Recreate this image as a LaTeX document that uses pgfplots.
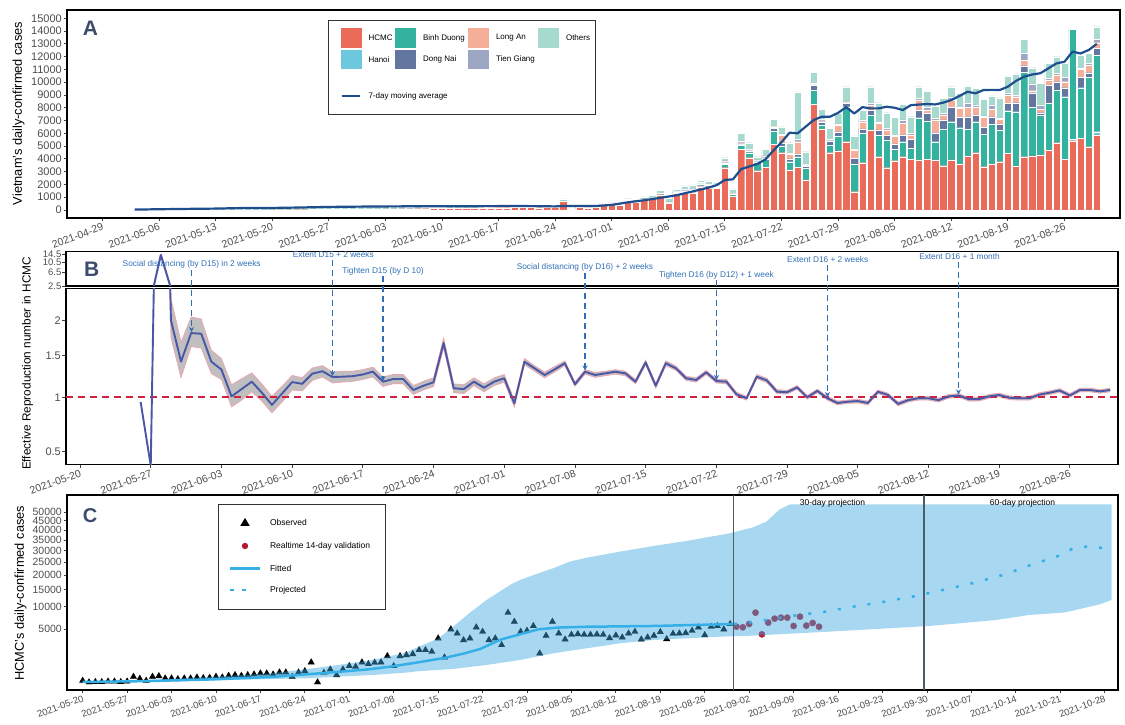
\documentclass[border=0pt]{standalone}
\usepackage{fontspec}
\setmainfont{Liberation Sans}
\setsansfont{Liberation Sans}
\usepackage{pgfplots}
\pgfplotsset{compat=1.18}
\usepackage{pgfplotstable}
\usetikzlibrary{arrows.meta}

\definecolor{npgred}{HTML}{E64B35}
\definecolor{npgcyan}{HTML}{4DBBD5}
\definecolor{npggreen}{HTML}{00A087}
\definecolor{npgnavy}{HTML}{3C5488}
\definecolor{npgsalmon}{HTML}{F39B7F}
\definecolor{npglav}{HTML}{8491B4}
\definecolor{npgmint}{HTML}{91D1C2}
\colorlet{cH}{npgred!82!white}
\colorlet{cHa}{npgcyan!82!white}
\colorlet{cBD}{npggreen!80!white}
\colorlet{cDN}{npgnavy!80!white}
\colorlet{cLA}{npgsalmon!80!white}
\colorlet{cTG}{npglav!80!white}
\colorlet{cO}{npgmint!80!white}
\definecolor{maBlue}{HTML}{1F4E8F}
\definecolor{tickgray}{HTML}{4D4D4D}
\definecolor{letterc}{HTML}{3D4C6A}
\definecolor{rtline}{HTML}{4A56A6}
\definecolor{rtpink}{HTML}{F0A3AE}
\definecolor{refred}{HTML}{D0203F}
\definecolor{annblue}{HTML}{2F6FB6}
\definecolor{ribblue}{HTML}{3FA9E0}
\definecolor{fitblue}{HTML}{35B0E6}
\definecolor{valred}{HTML}{B5172F}
\definecolor{vline}{HTML}{4F5B66}

\pgfplotsset{
  panel/.style={
    scale only axis, anchor=south west,
    scaled ticks=false,
    axis line style={line width=1.3pt, black},
    tick align=outside, tick pos=left,
    major tick length=3.5pt,
    tick style={line width=0.8pt, black!75},
    tick label style={text=tickgray},
    yticklabel style={font=\fontsize{11}{12}\selectfont, inner sep=1.5pt},
    xticklabel style={font=\fontsize{10.5}{12}\selectfont, rotate=20, anchor=north east, inner sep=1pt},
    /pgf/number format/assume math mode=true,
  },
}

\begin{document}

% Panel A: daily cases by province (day 0 = 2021-05-20)
\pgfplotstableread{
d H Ha BD DN LA TG O
-17 0 0 0 0 0 0 40
-16 0 0 0 0 0 0 50
-15 0 0 0 0 0 0 60
-14 0 0 0 0 0 0 70
-13 0 0 0 0 0 0 80
-12 0 0 0 0 0 0 90
-11 0 0 0 0 0 0 100
-10 0 0 0 0 0 0 100
-9 0 0 0 0 0 0 110
-8 0 0 0 0 0 0 120
-7 0 0 0 0 0 0 130
-6 0 0 0 0 0 0 120
-5 0 0 0 0 0 0 150
-4 0 0 0 0 0 0 280
-3 0 0 0 0 0 0 120
-2 0 0 0 0 0 0 140
-1 0 0 0 0 0 0 130
0 10 0 0 0 0 0 150
1 10 0 0 0 0 0 160
2 15 0 0 0 0 0 170
3 20 0 0 0 0 0 180
4 25 0 0 0 0 0 200
5 30 0 0 0 0 0 350
6 30 0 0 0 0 0 200
7 40 0 0 0 0 0 210
8 40 0 0 0 0 0 220
9 50 0 0 0 0 0 200
10 50 0 0 0 0 0 220
11 60 0 0 0 0 0 230
12 60 0 0 0 0 0 220
13 70 0 0 0 0 0 230
14 80 0 0 0 0 0 200
15 90 0 0 0 0 0 180
16 80 0 0 0 0 0 190
17 90 0 0 0 0 0 170
18 100 0 0 0 0 0 170
19 100 0 0 0 0 0 160
20 110 0 0 0 0 0 150
21 110 0 0 0 0 0 140
22 120 0 0 0 0 0 150
23 130 0 0 0 0 0 140
24 140 0 0 0 0 0 130
25 150 0 0 0 0 0 120
26 150 0 0 0 0 0 110
27 160 0 0 0 0 0 100
28 180 0 10 0 0 0 100
29 180 0 10 0 0 0 100
30 200 0 20 0 0 0 90
31 210 0 20 0 0 0 100
32 200 0 20 0 0 0 90
33 180 0 20 0 0 0 90
34 220 0 20 0 0 0 100
35 230 0 20 0 0 0 90
36 700 0 20 0 0 0 150
37 30 0 10 0 0 0 100
38 230 0 20 0 0 0 60
39 170 0 15 0 0 0 50
40 220 0 20 0 0 0 50
41 400 0 40 0 0 0 80
42 550 0 50 0 0 0 100
43 380 0 30 0 0 0 60
44 700 0 40 20 0 0 120
45 650 0 40 20 0 0 120
46 800 0 50 30 0 0 140
47 900 0 60 30 0 0 160
48 1200 0 80 40 20 0 220
49 550 0 60 30 0 0 250
50 1300 0 80 40 20 10 180
51 1304 0 78 131 52 52 261
52 1356 0 79 130 52 52 287
53 1826 0 78 131 52 78 183
54 1748 0 78 104 78 52 209
55 1695 0 79 104 52 78 157
56 3312 0 262 130 78 52 261
57 1096 0 130 26 26 26 339
58 4747 0 339 105 78 130 600
59 4095 0 391 157 52 52 522
60 3078 0 704 52 52 27 260
61 3339 0 652 104 78 79 521
62 5139 0 1043 208 131 52 522
63 4486 0 522 209 652 78 574
64 3130 0 652 209 391 52 835
65 3339 0 834 209 965 209 3678
66 2348 0 913 182 78 79 964
67 8268 0 1122 391 52 131 809
68 6338 0 313 261 78 105 808
69 4486 0 600 339 53 52 860
70 4617 0 1174 339 521 79 835
71 5347 0 2739 261 52 78 1174
72 1435 0 2165 443 652 52 1044
73 3704 0 2295 339 574 131 782
74 6260 0 1174 391 391 131 1304
75 4173 0 1696 391 522 130 1487
76 3312 0 2166 391 391 130 1227
77 3860 0 887 420 600 100 1380
78 4173 0 1174 522 913 261 1225
79 3965 0 860 705 339 130 1304
80 3913 0 3312 600 783 130 913
81 3965 0 2999 600 261 209 1278
82 3913 0 1434 704 992 130 965
83 3469 0 2843 731 391 130 1174
84 3913 0 2999 1122 574 208 835
85 3600 0 2843 808 704 131 1043
86 4226 0 2086 991 731 365 1304
87 4486 0 2426 522 600 182 1304
88 3391 0 2556 522 782 104 1305
89 3600 0 3130 573 574 339 705
90 3782 0 2478 470 365 130 1565
91 4434 0 3339 574 652 130 1357
92 3443 0 4252 704 469 105 1669
93 4173 0 6600 521 444 521 1122
94 4226 0 3808 1147 157 522 1278
95 4304 0 3130 182 261 339 1696
96 4695 0 3652 1434 392 130 1174
97 5269 0 4121 652 522 130 1304
98 3965 0 4903 704 470 339 1096
99 5425 105 8607 0 0 0 0
100 5608 0 3964 809 626 131 991
101 4956 0 5425 365 600 131 782
102 5869 261 5999 521 444 261 991
}\dataA

\pgfplotstableread{
d ma
-17 30
-14 60
-10 90
-7 110
-4 150
0 160
3 190
7 240
10 260
14 280
18 290
22 300
26 300
30 310
33 300
35 280
36 320
38 320
40 310
42 400
44 600
46 760
48 950
50 1150
52 1450
54 1750
55 1950
56 2350
57 2400
58 3200
60 3600
61 3950
62 4650
63 5300
64 6050
65 6000
67 7050
68 7300
69 7300
70 7600
71 8050
72 7550
73 8050
74 7950
75 7950
76 8080
77 8000
78 7820
79 8200
80 8250
81 8290
82 8260
83 8400
84 8600
85 8920
86 9250
87 9130
88 9390
89 9400
90 9390
91 9650
92 10100
93 10430
94 10600
95 10700
96 11080
97 11470
98 11600
99 12390
100 12250
101 12520
102 13000
}\maA

% Panel B: effective reproduction number with band
\pgfplotstableread{
d r lo hi
6 0.95 0.95 0.95
7 0.40 0.40 0.40
8 14.2 14.2 14.2
9 2.0 1.75 2.35
10 1.42 1.22 1.68
11 1.81 1.62 2.05
12 1.80 1.60 2.02
13 1.42 1.27 1.57
14 1.32 1.20 1.46
15 1.01 0.90 1.14
16 1.09 0.97 1.21
17 1.175 1.06 1.28
18 1.05 0.96 1.15
19 0.92 0.84 1.01
20 1.04 0.95 1.12
21 1.17 1.08 1.25
22 1.15 1.07 1.22
23 1.27 1.19 1.34
24 1.30 1.23 1.37
25 1.23 1.16 1.29
26 1.234 1.17 1.30
27 1.24 1.18 1.30
28 1.26 1.20 1.32
29 1.295 1.23 1.35
30 1.175 1.12 1.23
31 1.206 1.15 1.26
32 1.206 1.15 1.26
33 1.08 1.03 1.13
34 1.128 1.08 1.18
35 1.168 1.12 1.22
36 1.67 1.60 1.74
37 1.10 1.05 1.15
38 1.09 1.04 1.14
39 1.175 1.13 1.22
40 1.106 1.06 1.15
41 1.175 1.13 1.22
42 1.215 1.17 1.26
43 0.936 0.90 0.97
44 1.419 1.38 1.46
45 1.336 1.30 1.37
46 1.254 1.22 1.29
47 1.323 1.29 1.36
48 1.40 1.37 1.43
49 1.145 1.12 1.17
50 1.294 1.265 1.32
51 1.254 1.225 1.285
52 1.274 1.245 1.30
53 1.294 1.265 1.32
54 1.274 1.245 1.30
55 1.175 1.15 1.20
56 1.41 1.38 1.44
57 1.128 1.10 1.155
58 1.40 1.37 1.43
59 1.336 1.31 1.365
60 1.215 1.19 1.24
61 1.195 1.17 1.22
62 1.287 1.26 1.31
63 1.183 1.16 1.205
64 1.175 1.15 1.20
65 1.032 1.01 1.055
66 0.99 0.97 1.01
67 1.234 1.21 1.26
68 1.19 1.165 1.215
69 1.061 1.04 1.085
70 1.055 1.035 1.075
71 1.11 1.09 1.13
72 1.0 0.98 1.02
73 1.07 1.05 1.09
74 0.99 0.97 1.01
75 0.94 0.92 0.96
76 0.953 0.935 0.97
77 0.96 0.94 0.98
78 0.94 0.92 0.96
79 1.06 1.04 1.08
80 1.025 1.005 1.045
81 0.93 0.91 0.95
82 0.97 0.95 0.99
83 0.99 0.97 1.01
84 0.99 0.97 1.01
85 0.97 0.95 0.99
86 1.01 0.99 1.03
87 1.02 1.0 1.04
88 0.98 0.96 1.0
89 0.98 0.96 1.0
90 1.01 0.99 1.03
91 1.025 1.005 1.045
92 0.995 0.975 1.015
93 0.99 0.97 1.01
94 0.99 0.97 1.01
95 1.03 1.01 1.05
96 1.05 1.03 1.07
97 1.075 1.055 1.095
98 1.02 1.0 1.04
99 1.08 1.06 1.10
100 1.08 1.06 1.10
101 1.065 1.045 1.085
102 1.08 1.06 1.10
}\rt

% Panel C: HCMC observed, validation, fitted, projected, band
\pgfplotstableread{
d v
0 12
1 2
2 3
3 3
4 6
5 6
6 3
7 6
8 74
9 36
10 12
11 74
12 90
13 42
14 42
15 31
16 42
17 42
18 60
19 48
20 54
21 74
22 60
23 98
24 117
25 98
26 117
27 137
28 169
29 169
30 137
31 204
32 204
33 74
34 204
35 256
36 751
37 2
38 193
39 331
40 117
41 331
42 511
43 471
44 751
45 635
46 724
47 751
48 1267
49 511
50 1267
51 1362
52 1459
53 1892
54 1892
55 1706
56 3446
57 1149
58 4970
59 4251
60 3192
61 3446
62 5344
63 4543
64 3192
65 3446
66 2500
67 8500
68 6477
69 4543
70 4720
71 5596
72 1529
73 3869
74 6477
75 4251
76 3295
77 4032
78 4134
79 4032
80 4032
81 4083
82 4032
83 3493
84 3919
85 3600
86 4251
87 4543
88 3295
89 3600
90 3869
91 4489
92 3341
93 4199
94 4251
95 4316
96 4720
97 5344
98 3969
99 5466
100 5596
101 4970
102 5994
}\obs

\pgfplotstableread{
d v
103 5466
104 5344
105 5994
106 8500
107 4083
108 6270
109 7120
110 7340
111 7340
112 5596
113 7570
114 5660
115 6200
116 5466
}\val

\pgfplotstableread{
d v
0 3
10 8
20 25
30 70
38 180
45 330
49 500
53 760
57 1100
60 1500
62.6 2000
64.5 2700
66 3300
68.9 4080
71.8 4970
75 5300
79.4 5450
90 5600
102.6 5990
}\fit

\pgfplotstableread{
d v
102.6 5990
105 6300
108 6900
112 7800
117 8750
121 9900
126 11260
131 12900
135.5 14840
140.3 17140
145 20000
149.5 24000
154 27900
156 31000
158 31800
160 31500
162 30300
}\proj

\pgfplotstableread{
d v
0 6
8.6 14
19 60
29.6 169
35 331
40.2 571
45.6 924
50.9 1600
53 2300
56 3400
58.4 5500
61 8500
63.6 11800
67.3 16460
68.9 18190
71.5 20370
74.1 22530
76.7 25190
79.4 26900
84.6 29520
89.9 32110
95.1 34520
101.9 38330
105.6 41450
107.7 44520
109.8 51500
111.4 54570
162.1 54570
162.1 11820
160.2 10600
158.6 10000
156 9000
154.4 8500
149.1 7950
143.9 6820
133.4 5596
117.6 4543
105.6 3869
100.4 3706
95.1 3446
89.9 3192
84.6 2723
79.4 2088
74.1 1529
68.9 924
63.6 571
58.4 350
53 250
50.9 193
45.6 117
40.2 74
35 42
29.6 31
19 12
8.6 3
0 1
}\rib

\begin{tikzpicture}[x=1pt,y=1pt]
\path[use as bounding box] (0pt,0pt) rectangle (1125pt,725pt);

% ---------------- Panel A ----------------
\begin{axis}[panel, at={(67pt,507pt)}, width=1053pt, height=208pt,
  xmin=-25.37, xmax=104.87, ymin=-626, ymax=15650,
  ybar stacked, bar width=0.9,
  xtick={-21,-14,...,105},
  xticklabels={2021-04-29,2021-05-06,2021-05-13,2021-05-20,2021-05-27,2021-06-03,2021-06-10,2021-06-17,2021-06-24,2021-07-01,2021-07-08,2021-07-15,2021-07-22,2021-07-29,2021-08-05,2021-08-12,2021-08-19,2021-08-26,2021-09-02},
  ytick={0,1000,...,15000},
  yticklabels={0,1000,2000,3000,4000,5000,6000,7000,8000,9000,10000,11000,12000,13000,14000,15000},
]
\addplot[fill=cH, draw=white, line width=0.3pt] table[x=d,y=H]{\dataA};
\addplot[fill=cHa, draw=white, line width=0.3pt] table[x=d,y=Ha]{\dataA};
\addplot[fill=cBD, draw=white, line width=0.3pt] table[x=d,y=BD]{\dataA};
\addplot[fill=cDN, draw=white, line width=0.3pt] table[x=d,y=DN]{\dataA};
\addplot[fill=cLA, draw=white, line width=0.3pt] table[x=d,y=LA]{\dataA};
\addplot[fill=cTG, draw=white, line width=0.3pt] table[x=d,y=TG]{\dataA};
\addplot[fill=cO, draw=white, line width=0.3pt] table[x=d,y=O]{\dataA};
\end{axis}
\begin{axis}[scale only axis, anchor=south west, at={(67pt,507pt)}, width=1053pt, height=208pt,
  xmin=-25.37, xmax=104.87, ymin=-626, ymax=15650, hide axis]
\addplot[maBlue, line width=2.2pt, no marks, line join=round] table[x=d,y=ma]{\maA};
\end{axis}

% legend A
\draw[black!80, line width=0.8pt, fill=white] (328.3,705) rectangle (595,611);
\begin{scope}[font=\fontsize{8}{9}\selectfont]
\fill[cH] (341,696.7) rectangle (362,677.3); \node[anchor=west] at (365,687) {HCMC};
\fill[cBD] (395,696.7) rectangle (416,677.3); \node[anchor=west] at (419.5,687) {Binh Duong};
\fill[cLA] (468.3,696.7) rectangle (489.3,677.3); \node[anchor=west] at (492.5,687) {Long An};
\fill[cO] (538.3,696.7) rectangle (559.3,677.3); \node[anchor=west] at (562.5,687) {Others};
\fill[cHa] (341,675) rectangle (362,655.7); \node[anchor=west] at (365,665.3) {Hanoi};
\fill[cDN] (395,675) rectangle (416,655.7); \node[anchor=west] at (419.5,665.3) {Dong Nai};
\fill[cTG] (468.3,675) rectangle (489.3,655.7); \node[anchor=west] at (492.5,665.3) {Tien Giang};
\draw[maBlue, line width=2.2pt] (341.7,629) -- (360,629); \node[anchor=west] at (365,629) {7-day moving average};
\end{scope}
\node[font=\fontsize{21}{24}\selectfont\bfseries, text=letterc] at (90.5,696.8) {A};
\node[rotate=90, font=\fontsize{12.8}{14}\selectfont] at (18.5,611.5) {Vietnam's daily-confirmed cases};

% ---------------- Panel B ----------------
\begin{axis}[panel, at={(66pt,439pt)}, width=1052pt, height=34.3pt,
  xmin=-1.39, xmax=102.77, ymin=1.58, ymax=3.99,
  xtick=\empty,
  ytick={1.5811,2.5495,3.2404,3.8079}, yticklabels={2.5,6.5,10.5,14.5},
  yticklabel style={font=\fontsize{9.5}{10}\selectfont, inner sep=1pt},
]
\addplot[rtline, line width=2pt, no marks, line join=round] table[x=d, y expr={sqrt(\thisrow{r})}]{\rt};
\end{axis}
% band (stacked: lower, then width)
\begin{axis}[scale only axis, anchor=south west, at={(66pt,260.7pt)}, width=1052pt, height=176pt,
  xmin=-1.39, xmax=102.77, ymin=0.6398, ymax=1.586, hide axis, stack plots=y]
\addplot[draw=none, no marks] table[x=d, y expr={sqrt(\thisrow{lo})}]{\rt};
\addplot[fill=gray!50, draw=none, no marks] table[x=d, y expr={sqrt(\thisrow{hi})-sqrt(\thisrow{lo})}]{\rt} \closedcycle;
\end{axis}
\begin{axis}[panel, at={(66pt,260.7pt)}, width=1052pt, height=176pt,
  xmin=-1.39, xmax=102.77, ymin=0.6398, ymax=1.586,
  xtick={0,7,...,98},
  xticklabels={2021-05-20,2021-05-27,2021-06-03,2021-06-10,2021-06-17,2021-06-24,2021-07-01,2021-07-08,2021-07-15,2021-07-22,2021-07-29,2021-08-05,2021-08-12,2021-08-19,2021-08-26},
  ytick={0.70711,1,1.22474,1.41421}, yticklabels={0.5,1,1.5,2},
]
\addplot[draw=rtpink, line width=0.7pt, no marks] table[x=d, y expr={sqrt(\thisrow{lo})}]{\rt};
\addplot[draw=rtpink, line width=0.7pt, no marks] table[x=d, y expr={sqrt(\thisrow{hi})}]{\rt};
\addplot[draw=refred, line width=1.6pt, dash pattern=on 7pt off 5pt, no marks] coordinates {(-1.39,1) (102.77,1)};
\addplot[rtline, line width=1.9pt, no marks, line join=round] table[x=d, y expr={sqrt(\thisrow{r})}]{\rt};
\end{axis}
\node[font=\fontsize{21}{24}\selectfont\bfseries, text=letterc] at (91.7,455.5) {B};
\node[rotate=90, font=\fontsize{11.8}{14}\selectfont] at (27.5,361.5) {Effective Reproduction number in HCMC};

% annotations B
\begin{scope}[annblue, font=\fontsize{8.3}{10}\selectfont]
\node at (191.7,460.7) {Social distancing (by D15) in 2 weeks};
\node at (333.3,470.7) {Extent D15 + 2 weeks};
\node at (383,454) {Tighten D15 (by D 10)};
\node at (585,457.3) {Social distancing (by D16) + 2 weeks};
\node at (716.4,450) {Tighten D16 (by D12) + 1 week};
\node at (827.7,465.7) {Extent D16 + 2 weeks};
\node at (959.5,468.3) {Extent D16 + 1 month};
\end{scope}
\begin{scope}[annblue, line width=1.3pt, dash pattern=on 6pt off 4pt, -{Stealth[length=5pt,width=5pt]}]
\draw[annblue] (191.5,455) -- (191.5,393);
\draw[annblue] (332.5,465) -- (332.5,349);
\draw[annblue] (383,449) -- (383,344);
\draw[annblue] (585,452) -- (585,354.5);
\draw[annblue] (716.5,445) -- (716.5,345);
\draw[annblue] (827.5,460) -- (827.5,328);
\draw[annblue] (958.5,463) -- (958.5,330.5);
\end{scope}

% ---------------- Panel C ----------------
\begin{axis}[panel, at={(67pt,35pt)}, width=1051pt, height=195pt,
  xmin=-2.47, xmax=163.1, ymin=-8.75, ymax=245.8,
  clip marker paths=true,
  xtick={0,7,...,161},
  xticklabels={2021-05-20,2021-05-27,2021-06-03,2021-06-10,2021-06-17,2021-06-24,2021-07-01,2021-07-08,2021-07-15,2021-07-22,2021-07-29,2021-08-05,2021-08-12,2021-08-19,2021-08-26,2021-09-02,2021-09-09,2021-09-16,2021-09-23,2021-09-30,2021-10-07,2021-10-14,2021-10-21,2021-10-28},
  xticklabel style={font=\fontsize{9.5}{11}\selectfont},
  ytick={70.711,100,122.474,141.421,158.114,173.205,187.083,200,212.132,223.607},
  yticklabels={5000,10000,15000,20000,25000,30000,35000,40000,45000,50000},
  yticklabel style={font=\fontsize{10.5}{11}\selectfont},
]
\addplot[only marks, mark=triangle*, mark size=3.6pt, black] table[x=d, y expr={sqrt(\thisrow{v})}]{\obs};
\addplot[only marks, mark=*, mark size=3.1pt, valred] table[x=d, y expr={sqrt(\thisrow{v})}]{\val};
\addplot[fill=ribblue, fill opacity=0.45, draw=none] table[x=d, y expr={sqrt(\thisrow{v})}]{\rib};
\addplot[fitblue, line width=2.5pt, no marks] table[x=d, y expr={sqrt(\thisrow{v})}]{\fit};
\addplot[fitblue, line width=2.5pt, dash pattern=on 3pt off 12pt, no marks] table[x=d, y expr={sqrt(\thisrow{v})}]{\proj};
\draw[vline, line width=1.5pt] (axis cs:102.5,-8.75) -- (axis cs:102.5,245.8);
\draw[vline, line width=1.5pt] (axis cs:132.5,-8.75) -- (axis cs:132.5,245.8);
\end{axis}
\node[font=\fontsize{8.5}{10}\selectfont] at (832.5,221.7) {30-day projection};
\node[font=\fontsize{8.5}{10}\selectfont] at (1022.5,221.7) {60-day projection};
\node[font=\fontsize{20}{24}\selectfont\bfseries, text=letterc] at (90,209) {C};
\node[rotate=90, font=\fontsize{12.8}{14}\selectfont] at (20.5,131.7) {HCMC's daily-confirmed cases};

% legend C
\draw[black!80, line width=0.8pt, fill=white] (218.3,220.7) rectangle (385.7,115.7);
\begin{scope}[font=\fontsize{8.5}{10}\selectfont]
\fill[black] (245,207) -- (240.3,199.2) -- (249.7,199.2) -- cycle;
\node[anchor=west] at (266.5,202.7) {Observed};
\fill[valred] (245,179) circle (3.2pt);
\node[anchor=west] at (266.5,179) {Realtime 14-day validation};
\draw[fitblue, line width=2.5pt] (230,156.7) -- (260,156.7);
\node[anchor=west] at (266.5,156.7) {Fitted};
\draw[fitblue, line width=2.5pt, dash pattern=on 4pt off 8pt] (230,135) -- (252,135);
\node[anchor=west] at (266.5,135) {Projected};
\end{scope}

\end{tikzpicture}
\end{document}
